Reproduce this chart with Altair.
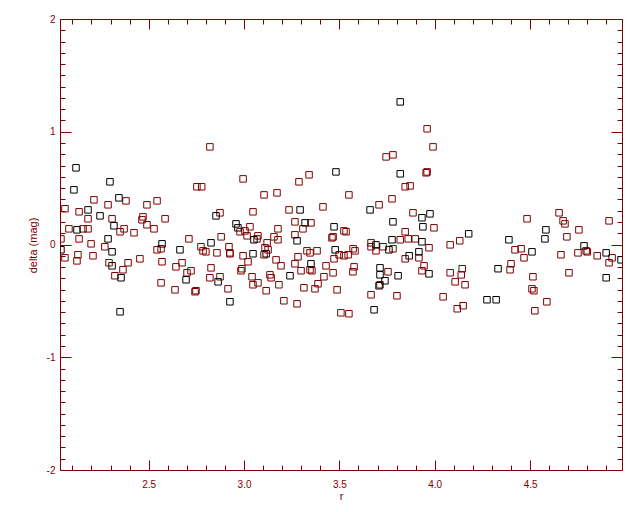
import altair as alt
import pandas as pd

# ---- data ----
r_black = [2.119, 2.297, 2.108, 2.344, 2.182, 2.245, 2.318, 2.124, 2.287, 2.57, 2.04, 2.308, 2.664,
           2.308, 2.355, 2.696, 2.35,
           3.482, 3.294, 2.853, 3.32, 2.958, 2.968, 3.472, 3.052, 3.278, 2.827, 3.047, 3.116, 3.478,
           3.351, 2.864, 3.241, 2.926,
           3.819, 3.819, 3.661, 3.933, 3.975, 3.781, 3.938, 4.178, 3.776, 3.933, 3.692, 3.76, 3.866,
           3.917, 3.713, 3.713, 3.97, 3.808, 3.739, 3.708, 3.682, 4.274, 4.322,
           4.389, 4.578, 4.583, 4.51, 4.783, 4.899, 4.977, 4.332, 4.899]
d_black = [0.68, 0.556, 0.485, 0.414, 0.307, 0.254, 0.166, 0.13, 0.05, 0.006, -0.047, -0.065, -0.047,
           -0.189, -0.295, -0.313, -0.597,
           0.644, 0.307, 0.254, 0.192, 0.183, 0.148, 0.157, 0.042, 0.033, 0.015, -0.082, -0.082, -0.047,
           -0.171, -0.331, -0.277, -0.508,
           1.265, 0.627, 0.307, 0.237, 0.272, 0.201, 0.157, 0.095, 0.042, 0.024, -0.003, -0.047, -0.1,
           -0.065, -0.207, -0.269, -0.26, -0.277, -0.322, -0.366, -0.579, -0.49, -0.49,
           0.042, 0.05, 0.13, -0.065, -0.012, -0.074, -0.136, -0.215, -0.295]

r_red = [2.753, 2.778, 2.213, 2.381, 2.287, 2.491, 2.544, 2.061, 2.135, 2.182, 2.308, 2.47, 2.465,
         2.586, 2.491, 2.082, 2.156, 2.182, 2.35, 2.371, 2.423, 2.528, 2.04, 2.135, 2.711, 2.198,
         2.27, 2.544, 2.565, 2.774, 2.785, 2.061, 2.129, 2.124, 2.208, 2.292, 2.392, 2.454, 2.57,
         2.643, 2.675, 2.365, 2.323, 2.701, 2.722, 2.565, 2.638, 2.743, 2.748,
         2.821, 2.995, 3.341, 3.288, 3.173, 3.105, 3.414, 3.236, 3.047, 2.874, 3.267, 3.351, 3.031,
         2.979, 3.005, 3.016, 3.178, 3.309, 3.524, 2.88, 3.073, 3.068, 3.157, 3.178, 3.267, 3.461,
         3.467, 3.121, 2.8, 2.858, 2.921, 2.926, 2.926, 2.995, 3.11, 3.126, 3.105, 3.168, 3.194,
         3.283, 3.267, 3.33, 3.346, 3.383, 3.499, 3.524, 3.472, 3.021, 2.827, 2.989, 2.984, 3.43,
         3.299, 3.346, 3.356, 3.467, 2.821, 2.874, 3.042, 3.136, 3.142, 3.073, 3.047, 3.183, 3.419,
         3.388, 3.314, 3.372, 3.488, 2.916, 3.116, 3.209, 3.278, 3.508,
         3.96, 3.991, 3.745, 3.781, 3.955, 3.96, 3.845, 3.871, 3.55, 3.776, 3.708, 3.886, 3.996,
         3.535, 3.845, 3.819, 3.861, 3.898, 4.131, 3.666, 3.666, 3.729, 3.572, 3.582, 3.692, 3.781,
         3.97, 4.081, 3.845, 3.917, 3.546, 3.577, 3.571, 3.755, 3.944, 3.933, 3.713, 4.081, 4.144,
         4.139, 4.107, 4.159, 3.666, 3.802, 4.044, 3.55, 4.118, 4.149,
         4.652, 4.484, 4.673, 4.683, 4.914, 4.756, 4.693, 4.421, 4.453, 4.662, 4.751, 4.794, 4.8,
         4.852, 4.914, 4.93, 4.468, 4.4, 4.395, 4.704, 4.515, 4.51, 4.52, 4.588, 4.525]
d_red = [0.512, 0.512, 0.396, 0.387, 0.352, 0.352, 0.387, 0.317, 0.29, 0.228, 0.228, 0.245, 0.219,
         0.228, 0.175, 0.139, 0.139, 0.139, 0.113, 0.139, 0.104, 0.139, 0.05, 0.05, 0.05, 0.006,
         -0.02, -0.047, -0.038, -0.02, -0.056, -0.118, -0.091, -0.145, -0.1, -0.162, -0.162, -0.127, -0.153,
         -0.198, -0.162, -0.224, -0.277, -0.251, -0.233, -0.34, -0.402, -0.419, -0.41,
         0.866, 0.582, 0.618, 0.556, 0.458, 0.44, 0.334, 0.307, 0.29, 0.281, 0.201, 0.192, 0.157,
         0.113, 0.121, 0.077, 0.139, 0.139, 0.121, 0.068, 0.077, 0.05, 0.068, 0.042, 0.086, 0.059,
         0.068, 0.015, -0.065, -0.074, -0.02, -0.074, -0.082, -0.1, -0.029, -0.047, -0.091, -0.136, -0.189,
         -0.109, -0.171, -0.056, -0.074, -0.056, -0.091, -0.1, -0.127, -0.153, -0.207, -0.215, -0.233, -0.189,
         -0.233, -0.224, -0.233, -0.251, -0.295, -0.286, -0.286, -0.269, -0.295, -0.34, -0.357, -0.357, -0.286,
         -0.348, -0.384, -0.393, -0.402, -0.393, -0.41, -0.499, -0.526, -0.606,
         1.026, 0.866, 0.777, 0.795, 0.636, 0.644, 0.512, 0.52, 0.44, 0.405, 0.352, 0.281, 0.148,
         0.113, 0.113, 0.042, 0.05, 0.05, 0.033, 0.015, -0.02, -0.02, -0.038, -0.056, -0.056, -0.038,
         -0.029, -0.003, -0.127, -0.118, -0.091, -0.198, -0.242, -0.242, -0.189, -0.233, -0.357, -0.251, -0.215,
         -0.269, -0.331, -0.357, -0.446, -0.455, -0.464, -0.614, -0.57, -0.543,
         0.281, 0.228, 0.21, 0.183, 0.21, 0.13, 0.068, -0.047, -0.038, -0.091, -0.074, -0.056, -0.065,
         -0.1, -0.162, -0.118, -0.118, -0.171, -0.224, -0.251, -0.286, -0.393, -0.41, -0.508, -0.588]

x_major = [2.5, 3.0, 3.5, 4.0, 4.5]
y_major = [-2, -1, 0, 1, 2]
x_domain = [2.035, 4.982]
y_domain = [-2, 2]

x_minor = [round(2.1 + 0.1 * i, 1) for i in range(29)]
x_minor = [v for v in x_minor if v not in x_major]
y_minor = [round(-1.9 + 0.1 * i, 1) for i in range(39)]
y_minor = [v for v in y_minor if v not in y_major]

DR = "#800000"
FONT = "Liberation Sans"

df_black = pd.DataFrame({"r": r_black, "delta": d_black})
df_red = pd.DataFrame({"r": r_red, "delta": d_red})

xs = alt.Scale(domain=x_domain, nice=False, zero=False)
ys = alt.Scale(domain=y_domain, nice=False, zero=False)


def tick_axis(orient, values, size, offset):
    return alt.Axis(orient=orient, values=values, labels=False, domain=False, grid=False,
                    ticks=True, tickSize=size, offset=offset, tickColor=DR, tickWidth=1,
                    title=None)


x_label_axis = alt.Axis(orient="bottom", values=x_major, format=".1f", ticks=False, domain=False,
                        grid=False, labelPadding=9, labelColor=DR, labelFont=FONT, labelFontSize=10,
                        title="r", titleColor=DR, titleFont=FONT, titleFontSize=11,
                        titleFontWeight="normal", titleX=281, titleY=26, titleBaseline="middle",
                        titleAlign="center")
y_label_axis = alt.Axis(orient="left", values=y_major,
                        labelExpr="datum.value < 0 ? '-' + format(-datum.value, 'd') : format(datum.value, 'd')",
                        ticks=False, domain=False, grid=False, labelPadding=5, labelColor=DR,
                        labelFont=FONT, labelFontSize=10,
                        title="delta (mag)", titleColor=DR, titleFont=FONT, titleFontSize=11,
                        titleFontWeight="normal", titleX=-27, titleY=226, titleAngle=270,
                        titleBaseline="middle", titleAlign="center")

sq = dict(shape="square", filled=False, size=42, strokeWidth=1, clip=True, opacity=1)

red_layer = alt.Chart(df_red).mark_point(color=DR, **sq).encode(
    x=alt.X("r:Q", scale=xs, axis=x_label_axis),
    y=alt.Y("delta:Q", scale=ys, axis=y_label_axis),
)
black_layer = alt.Chart(df_black).mark_point(color="black", **sq).encode(
    x=alt.X("r:Q", scale=xs, axis=None),
    y=alt.Y("delta:Q", scale=ys, axis=None),
)


def axes_layer(xaxis, yaxis):
    return alt.Chart(df_black).mark_point(opacity=0).encode(
        x=alt.X("r:Q", scale=xs, axis=xaxis),
        y=alt.Y("delta:Q", scale=ys, axis=yaxis),
    )


t1 = axes_layer(tick_axis("bottom", x_major, 10, -10), tick_axis("left", y_major, 11, -11))
t2 = axes_layer(tick_axis("bottom", x_minor, 5, -5), tick_axis("left", y_minor, 5, -5))
t3 = axes_layer(tick_axis("top", x_major, 10, -10), tick_axis("right", y_major, 11, -11))
t4 = axes_layer(tick_axis("top", x_minor, 5, -5), tick_axis("right", y_minor, 5, -5))

chart = alt.layer(red_layer, black_layer, t1, t2, t3, t4).resolve_axis(
    x="independent", y="independent"
).properties(
    width=562,
    height=451,
    autosize=alt.AutoSizeParams(type="none"),
    padding={"left": 52, "top": 11, "right": 10, "bottom": 33},
    background="white",
).configure_view(stroke=DR, strokeWidth=1)

chart.save("out.html", embed_options={"renderer": "svg", "actions": False})
